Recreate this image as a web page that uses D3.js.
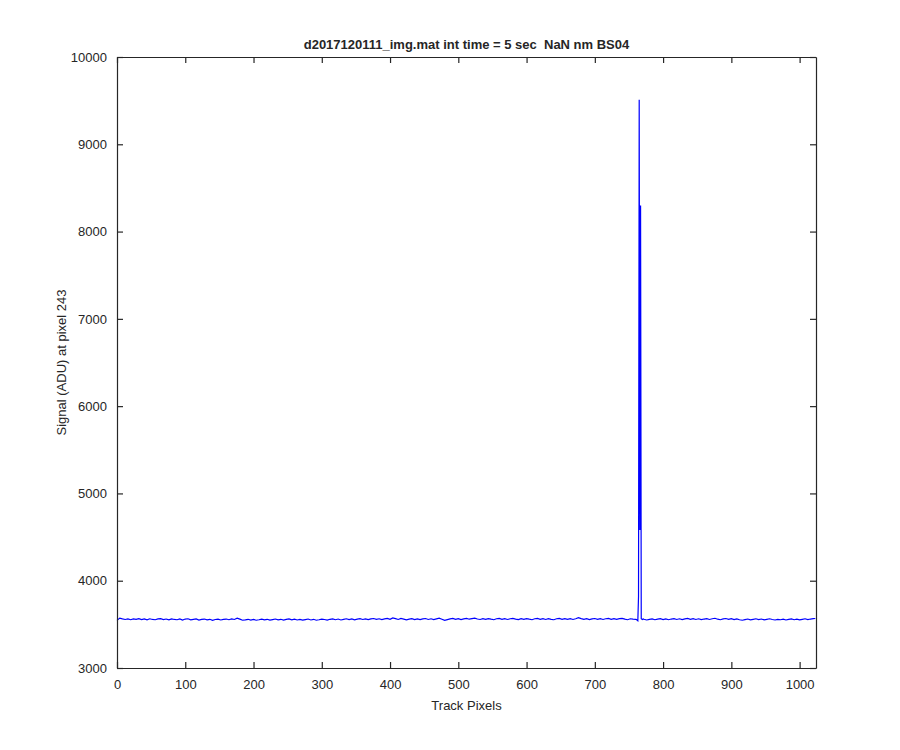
<!DOCTYPE html>
<html>
<head>
<meta charset="utf-8">
<script src="https://cdn.jsdelivr.net/npm/d3@7"></script>
<style>
  html, body { margin: 0; padding: 0; background: #fff; }
  svg { display: block; }
  text { font-family: "Liberation Sans", Arial, Helvetica, sans-serif; fill: #262626; }
</style>
</head>
<body>
<svg id="chart" width="900" height="750"></svg>
<script>
// ---- data ----
const titleText = "d2017120111_img.mat int time = 5 sec  NaN nm BS04";
const xLabel = "Track Pixels";
const yLabel = "Signal (ADU) at pixel 243";
const xTicks = [0, 100, 200, 300, 400, 500, 600, 700, 800, 900, 1000];
const yTicks = [3000, 4000, 5000, 6000, 7000, 8000, 9000, 10000];
const xDomain = [0, 1024];
const yDomain = [3000, 10000];

// baseline samples, track pixels 0..760 every 4 pixels
const leftPixels = d3.range(0, 761, 4);
const leftSignal = [
  3546, 3572, 3562, 3556, 3562, 3553, 3563, 3557, 3565, 3554,
  3562, 3552, 3564, 3556, 3553, 3562, 3565, 3555, 3561, 3551,
  3563, 3556, 3553, 3562, 3550, 3561, 3564, 3552, 3557, 3562,
  3549, 3557, 3561, 3551, 3558, 3547, 3556, 3560, 3550, 3557,
  3561, 3553, 3563, 3556, 3571, 3560, 3547, 3552, 3558, 3549,
  3557, 3547, 3553, 3560, 3551, 3558, 3548, 3555, 3561, 3551,
  3558, 3549, 3557, 3562, 3551, 3560, 3550, 3557, 3548, 3555,
  3561, 3550, 3558, 3547, 3553, 3560, 3556, 3549, 3558, 3563,
  3553, 3561, 3550, 3558, 3564, 3555, 3562, 3552, 3560, 3565,
  3556, 3563, 3554, 3562, 3567, 3557, 3564, 3555, 3563, 3569,
  3557, 3574, 3565, 3556, 3568, 3560, 3552, 3560, 3565, 3555,
  3563, 3554, 3562, 3567, 3556, 3564, 3555, 3563, 3570, 3559,
  3546, 3555, 3563, 3568, 3557, 3565, 3555, 3563, 3569, 3559,
  3566, 3572, 3561, 3556, 3565, 3557, 3566, 3559, 3553, 3564,
  3568, 3558, 3566, 3556, 3564, 3569, 3560, 3554, 3565, 3557,
  3566, 3559, 3553, 3564, 3568, 3558, 3566, 3556, 3565, 3557,
  3553, 3564, 3568, 3558, 3566, 3557, 3565, 3556, 3564, 3576,
  3565, 3557, 3565, 3554, 3563, 3567, 3557, 3565, 3556, 3564,
  3568, 3558, 3566, 3557, 3565, 3569, 3560, 3553, 3564, 3559,
  3557
];

// spike region, every pixel
const spikePixels = [761, 762, 763, 764, 765, 766, 767, 768, 769, 770, 771];
const spikeSignal = [3556, 3545, 3540, 3820, 9510, 4580, 8300, 3565, 3560, 3555, 3562];

// baseline samples, track pixels 772..1020 every 4 pixels, then 1023
const rightPixels = d3.range(772, 1021, 4).concat([1023]);
const rightSignal = [
  3558, 3550, 3557, 3563, 3553, 3560, 3565, 3555, 3563, 3553,
  3561, 3566, 3556, 3564, 3555, 3563, 3568, 3558, 3565, 3556,
  3564, 3554, 3561, 3566, 3556, 3564, 3570, 3559, 3553, 3562,
  3567, 3557, 3565, 3555, 3562, 3553, 3547, 3555, 3561, 3551,
  3558, 3564, 3554, 3561, 3551, 3558, 3564, 3556, 3550, 3558,
  3553, 3560, 3550, 3557, 3563, 3553, 3560, 3551, 3558, 3564,
  3555, 3561, 3566,
  3567
];

// ---- layout ----
const svg = d3.select("#chart");
const pL = 117, pR = 816, pT = 57, pB = 668;
const x = d3.scaleLinear().domain(xDomain).range([pL, pR]);
const y = d3.scaleLinear().domain(yDomain).range([pB, pT]);
const axisColor = "#262626";

const points = []
  .concat(leftPixels.map((p, i) => [p, leftSignal[i]]))
  .concat(spikePixels.map((p, i) => [p, spikeSignal[i]]))
  .concat(rightPixels.map((p, i) => [p, rightSignal[i]]));

// data line
svg.append("path")
  .datum(points)
  .attr("fill", "none")
  .attr("stroke", "#0000ff")
  .attr("stroke-width", 1.2)
  .attr("stroke-linejoin", "miter")
  .attr("d", d3.line().x(d => x(d[0])).y(d => y(d[1])));

// axes
const tickLen = 6;
const gBottom = svg.append("g").attr("transform", `translate(0,${pB})`)
  .call(d3.axisBottom(x).tickValues(xTicks).tickSizeInner(-tickLen).tickSizeOuter(0).tickPadding(12).tickFormat(d3.format("d")));
const gTop = svg.append("g").attr("transform", `translate(0,${pT})`)
  .call(d3.axisTop(x).tickValues(xTicks).tickSizeInner(-tickLen).tickSizeOuter(0).tickFormat(""));
const gLeft = svg.append("g").attr("transform", `translate(${pL},0)`)
  .call(d3.axisLeft(y).tickValues(yTicks).tickSizeInner(-tickLen).tickSizeOuter(0).tickPadding(10).tickFormat(d3.format("d")));
const gRight = svg.append("g").attr("transform", `translate(${pR},0)`)
  .call(d3.axisRight(y).tickValues(yTicks).tickSizeInner(-tickLen).tickSizeOuter(0).tickFormat(""));

[gBottom, gTop, gLeft, gRight].forEach(g => {
  g.selectAll(".domain").attr("stroke", axisColor).attr("stroke-width", 1.2);
  g.selectAll(".tick line").attr("stroke", axisColor).attr("stroke-width", 1.2);
  g.selectAll(".tick text").attr("fill", axisColor)
    .style("font-family", '"Liberation Sans", Arial, sans-serif').style("font-size", "13px");
});

// title and labels
svg.append("text")
  .attr("x", (pL + pR) / 2).attr("y", 49)
  .attr("text-anchor", "middle")
  .style("font-size", "13px").style("font-weight", "bold")
  .style("white-space", "pre")
  .attr("xml:space", "preserve")
  .text(titleText);

svg.append("text")
  .attr("x", (pL + pR) / 2).attr("y", 710)
  .attr("text-anchor", "middle")
  .style("font-size", "13px")
  .text(xLabel);

svg.append("text")
  .attr("transform", `translate(66,${(pT + pB) / 2}) rotate(-90)`)
  .attr("text-anchor", "middle")
  .style("font-size", "13px")
  .text(yLabel);
</script>
</body>
</html>
